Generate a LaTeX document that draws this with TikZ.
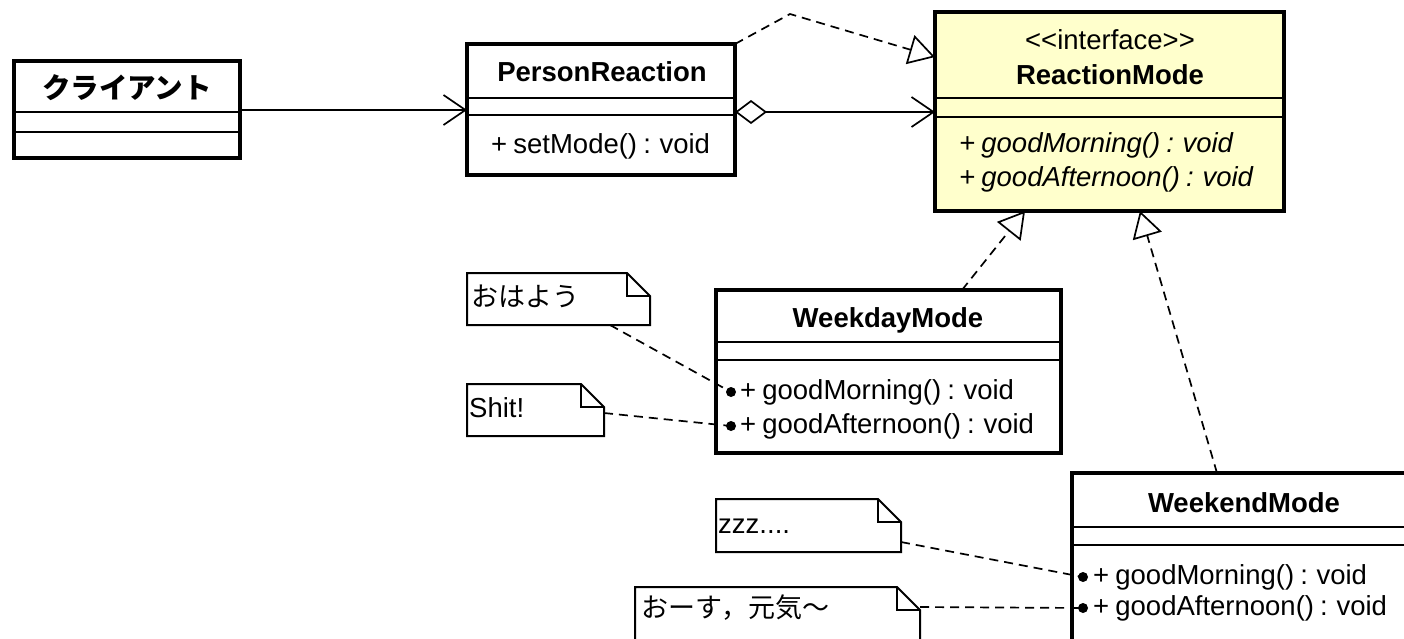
\documentclass[tikz,border=0pt]{standalone}
\usepackage{fontspec}
\setmainfont{Liberation Sans}[WordSpace=0.8]
\newfontfamily\jp{Noto Sans CJK JP}
\usetikzlibrary{arrows.meta}
\definecolor{ifill}{RGB}{255,255,204}
\tikzset{
  umlbox/.style={draw, line width=4pt, inner sep=0pt, outer sep=0pt, anchor=north west},
  sepline/.style={line width=2pt},
  txt/.style={inner sep=0pt, font=\fontsize{27.5}{32}\selectfont},
  ttl/.style={txt, font=\fontsize{27.5}{32}\selectfont\bfseries},
  jptxt/.style={inner sep=0pt, font=\fontsize{27}{32}\selectfont\jp},
  conn/.style={line width=1.7pt},
  dsh/.style={conn, dash pattern=on 9pt off 6pt},
  notebox/.style={inner sep=0pt, outer sep=0pt, anchor=north west},
  opentip/.style={-{Straight Barb[length=22pt,width=30pt]}},
  realtip/.style={-{Triangle[open,fill=white,length=26pt,width=30pt]}},
  dotmark/.style={fill=black, circle, inner sep=0pt, minimum size=10pt},
}
\newcommand{\notedraw}[1]{%
  \draw[line width=2pt, fill=white] (#1.north west) -- ([xshift=-23pt]#1.north east)
    -- ([yshift=-23pt]#1.north east) -- (#1.south east) -- (#1.south west) -- cycle;
  \draw[line width=2pt] ([xshift=-23pt]#1.north east) -- ([xshift=-23pt,yshift=-23pt]#1.north east)
    -- ([yshift=-23pt]#1.north east);}
\begin{document}
\begin{tikzpicture}[x=1pt,y=-1pt]
\useasboundingbox (0,0) rectangle (1404,638);
\clip (0,0) rectangle (1404,638);
\fill[white] (0,0) rectangle (1404,638);

% Client
\node[umlbox, minimum width=226pt, minimum height=97pt] (cl) at (14,61) {};
\draw[sepline] (cl.west |- 0,112) -- (cl.east |- 0,112);
\draw[sepline] (cl.west |- 0,132) -- (cl.east |- 0,132);
\node[jptxt, font=\fontsize{28.5}{32}\selectfont\jp\bfseries] (clt) at (127,88) {クライアント};

% PersonReaction
\node[umlbox, minimum width=268pt, minimum height=131pt] (pr) at (467,44) {};
\draw[sepline] (pr.west |- 0,98) -- (pr.east |- 0,98);
\draw[sepline] (pr.west |- 0,115) -- (pr.east |- 0,115);
\node[ttl] (prt) at (602,72) {PersonReaction};
\node[txt, anchor=west] (prm) at (491,146) {+ setMode() : void};

% ReactionMode
\node[umlbox, fill=ifill, minimum width=349pt, minimum height=199pt] (rm) at (935,12) {};
\draw[sepline] (rm.west |- 0,98) -- (rm.east |- 0,98);
\draw[sepline] (rm.west |- 0,117) -- (rm.east |- 0,117);
\node[txt] (rms) at (1110,40) {<{}<interface>{}>};
\node[ttl] (rmt) at (1110,75) {ReactionMode};
\node[txt, anchor=west, font=\fontsize{27.5}{32}\selectfont\itshape] (rm1) at (959,145) {+ goodMorning() : void};
\node[txt, anchor=west, font=\fontsize{27.5}{32}\selectfont\itshape] (rm2) at (959,179) {+ goodAfternoon() : void};

% WeekdayMode
\node[umlbox, minimum width=345pt, minimum height=163pt] (wd) at (716,290) {};
\draw[sepline] (wd.west |- 0,342) -- (wd.east |- 0,342);
\draw[sepline] (wd.west |- 0,360) -- (wd.east |- 0,360);
\node[ttl] (wdt) at (888,320) {WeekdayMode};
\node[txt, anchor=west] (wd1) at (740,392) {+ goodMorning() : void};
\node[txt, anchor=west] (wd2) at (740,426) {+ goodAfternoon() : void};

% WeekendMode
\node[umlbox, minimum width=345pt, minimum height=168pt] (we) at (1072,473) {};
\draw[sepline] (we.west |- 0,527) -- (we.east |- 0,527);
\draw[sepline] (we.west |- 0,545) -- (we.east |- 0,545);
\node[ttl] (wet) at (1244,503) {WeekendMode};
\node[txt, anchor=west] (we1) at (1093,577) {+ goodMorning() : void};
\node[txt, anchor=west] (we2) at (1093,608) {+ goodAfternoon() : void};

% Notes
\node[notebox, minimum width=183pt, minimum height=52pt] (n1) at (467,273) {};
\notedraw{n1}
\node[jptxt, anchor=west] (n1t) at (471,296) {おはよう};
\node[notebox, minimum width=137pt, minimum height=52pt] (n2) at (467,384) {};
\notedraw{n2}
\node[txt, anchor=west] (n2t) at (469,408) {Shit!};
\node[notebox, minimum width=185pt, minimum height=53pt] (n3) at (716,499) {};
\notedraw{n3}
\node[txt, anchor=west] (n3t) at (718,526) {zzz....};
\node[notebox, minimum width=285pt, minimum height=70pt] (n4) at (635,587) {};
\notedraw{n4}
\node[jptxt, anchor=west] (n4t) at (641,608) {おーす，元気～};

% Connectors
\draw[conn, opentip] (cl.east |- 0,110) -- (pr.west |- 0,110);
\draw[conn, {Diamond[open,fill=white,length=32pt,width=24pt]}-{Straight Barb[length=22pt,width=30pt]}] (pr.east |- 0,112) -- (rm.west |- 0,112);
\coordinate (bend) at (790,14);
\draw[dsh, realtip] (pr.north east) -- (bend) -- (rm.west |- 0,57);
\draw[dsh, realtip] (wd.north -| 962,0) -- (rm.south -| 1025,0);
\draw[dsh, realtip] (we.north -| 1217,0) -- (rm.south -| 1140,0);

\node[dotmark] (d1) at ([xshift=-9pt]wd1.west) {};
\node[dotmark] (d2) at ([xshift=-9pt]wd2.west) {};
\node[dotmark] (d3) at ([xshift=-10pt]we1.west) {};
\node[dotmark] (d4) at ([xshift=-10pt]we2.west) {};
\draw[dsh] (n1.south -| 610,0) -- (d1.center);
\draw[dsh] (n2.east |- 0,413) -- (d2.center);
\draw[dsh] (n3.east |- 0,542) -- (d3.center);
\draw[dsh] (n4.east |- 0,607) -- (d4.center);
\end{tikzpicture}
\end{document}
